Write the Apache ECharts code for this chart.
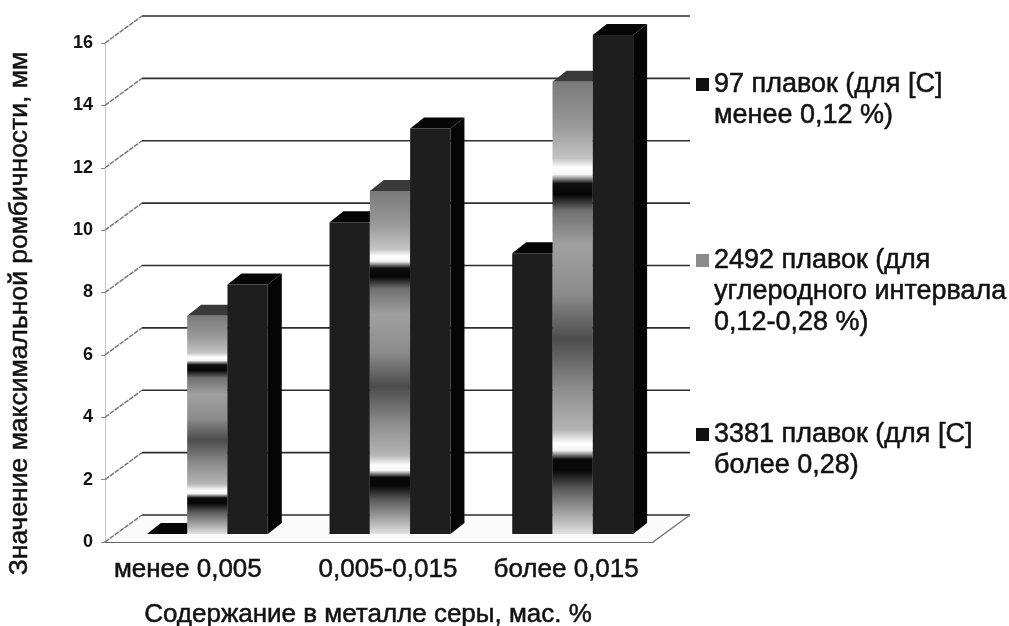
<!DOCTYPE html>
<html>
<head>
<meta charset="utf-8">
<script src="https://cdn.jsdelivr.net/npm/echarts@6/dist/echarts.min.js"></script>
<style>
  html, body { margin: 0; padding: 0; background: #fff; }
  #chart { width: 1009px; height: 626px; }
</style>
</head>
<body>
<div id="chart"></div>
<script>
const categories = ['менее 0,005', '0,005-0,015', 'более 0,015']
const yTicks = [0, 2, 4, 6, 8, 10, 12, 14, 16]
const melts97 = [0, 10, 9]
const melts2492 = [7, 11, 14.5]
const melts3381 = [8, 13, 16]
const seriesNames = [
  '97 плавок (для [С]\nменее 0,12 %)',
  '2492 плавок (для\nуглеродного интервала\n0,12-0,28 %)',
  '3381 плавок (для [С]\nболее 0,28)'
]

const font = '"Liberation Sans", Arial, sans-serif'
const heavy = { fontFamily: font, color: '#111', textBorderColor: '#111', textBorderWidth: 0.5 }
// смещение задней стенки и глубина столбца (косая проекция)
const wallDx = 37, wallDy = -27
const floorDx = 11, floorDy = -8
const barDx = 14, barDy = -11
const barWidth = 40.3

const stripes = new echarts.graphic.LinearGradient(0, 0, 0, 1, [
  { offset: 0, color: '#7a7a7a' },
  { offset: 0.1, color: '#9a9a9a' },
  { offset: 0.17, color: '#c4c4c4' },
  { offset: 0.19, color: '#ffffff' },
  { offset: 0.205, color: '#f4f4f4' },
  { offset: 0.225, color: '#101010' },
  { offset: 0.25, color: '#050505' },
  { offset: 0.285, color: '#707070' },
  { offset: 0.36, color: '#a0a0a0' },
  { offset: 0.47, color: '#8c8c8c' },
  { offset: 0.57, color: '#4c4c4c' },
  { offset: 0.68, color: '#8e8e8e' },
  { offset: 0.77, color: '#b4b4b4' },
  { offset: 0.8, color: '#ffffff' },
  { offset: 0.815, color: '#f4f4f4' },
  { offset: 0.835, color: '#080808' },
  { offset: 0.86, color: '#080808' },
  { offset: 0.9, color: '#5a5a5a' },
  { offset: 0.97, color: '#b8b8b8' },
  { offset: 1, color: '#e2e2e2' }
])

function barSeries(name, values, slot, front, top, side) {
  return {
    type: 'custom',
    name: name,
    itemStyle: { color: front === stripes ? '#8a8a8a' : '#111' },
    data: values.map((v, i) => [i, v]),
    renderItem(params, api) {
      const i = api.value(0)
      const center = api.coord([i, 0])
      const head = api.coord([i, api.value(1)])
      const x0 = center[0] + floorDx + (slot - 1.5) * barWidth
      const x1 = x0 + barWidth
      const y0 = center[1] + floorDy
      const y1 = head[1] + floorDy
      return {
        type: 'group',
        children: [
          { type: 'polygon', shape: { points: [[x1, y0], [x1 + barDx, y0 + barDy], [x1 + barDx, y1 + barDy], [x1, y1]] }, style: { fill: side } },
          { type: 'polygon', shape: { points: [[x0, y1], [x1, y1], [x1 + barDx, y1 + barDy], [x0 + barDx, y1 + barDy]] }, style: { fill: top } },
          { type: 'rect', shape: { x: x0, y: y1, width: barWidth, height: y0 - y1 }, style: { fill: front } }
        ]
      }
    }
  }
}

const wallSeries = {
  type: 'custom',
  silent: true,
  data: yTicks.map(t => [t]),
  renderItem(params, api) {
    const sys = params.coordSys
    const y = api.coord([0, api.value(0)])[1]
    const x0 = sys.x, x1 = sys.x + sys.width
    const children = [
      { type: 'polyline', shape: { points: [[x0, y], [x0 + wallDx, y + wallDy]] }, style: { stroke: '#777', lineWidth: 1.5, lineDash: [5, 1], fill: null } },
      { type: 'line', shape: { x1: x0 + wallDx, y1: y + wallDy, x2: x1 + wallDx, y2: y + wallDy }, style: { stroke: '#2e2e2e', lineWidth: 1.6 } }
    ]
    if (api.value(0) === 0) {
      children.unshift({
        type: 'polygon',
        shape: { points: [[x0, y], [x1, y], [x1 + wallDx, y + wallDy], [x0 + wallDx, y + wallDy]] },
        style: { fill: '#fbfbfb' }
      })
      children.push({ type: 'line', shape: { x1: x1, y1: y, x2: x1 + wallDx, y2: y + wallDy }, style: { stroke: '#777', lineWidth: 1.5 } })
    }
    return { type: 'group', children }
  }
}

// пустые строки сверху держат значок легенды на уровне первой строки текста
function legendAt(name, left, top, lines) {
  return {
    data: [name],
    left, top,
    orient: 'vertical',
    icon: 'rect',
    itemWidth: 13,
    itemHeight: 13,
    selectedMode: false,
    formatter: n => '\n'.repeat(lines - 1) + n,
    textStyle: { ...heavy, fontSize: 27, lineHeight: 31 }
  }
}

const chart = echarts.init(document.getElementById('chart'), null, { renderer: 'canvas' })
chart.setOption({
  animation: false,
  backgroundColor: '#fff',
  grid: { left: 105, top: 43, width: 548, height: 499, outerBoundsMode: 'none' },
  legend: [
    legendAt(seriesNames[0], 691, 33, 2),
    legendAt(seriesNames[1], 691, 178, 3),
    legendAt(seriesNames[2], 691, 383, 2)
  ],
  xAxis: {
    type: 'category',
    data: categories,
    name: 'Содержание в металле серы, мас. %',
    nameLocation: 'middle',
    nameGap: 60,
    nameTextStyle: { ...heavy, fontSize: 26, padding: [0, 22, 0, 0] },
    axisLine: { lineStyle: { color: '#333', width: 1.6 } },
    axisTick: { show: false },
    axisLabel: {
      margin: 15,
      interval: 0,
      hideOverlap: false,
      formatter: (v, i) => `{c${i}|${v}}`,
      rich: {
        c0: { ...heavy, fontSize: 26, padding: [0, 17, 0, 0] },
        c1: { ...heavy, fontSize: 26, padding: [0, 0, 0, 18] },
        c2: { ...heavy, fontSize: 26, padding: [0, 0, 0, 9] }
      }
    }
  },
  yAxis: {
    type: 'value',
    min: 0,
    max: 16,
    interval: 2,
    name: 'Значение максимальной ромбичности, мм',
    nameLocation: 'middle',
    nameGap: 72,
    nameRotate: 90,
    nameTextStyle: { ...heavy, fontSize: 26.5, padding: [0, 42, 0, 0] },
    axisLine: { show: true, lineStyle: { color: '#bbb', type: 'dotted' } },
    axisTick: { show: true, length: 4, lineStyle: { color: '#888' } },
    axisLabel: { margin: 12, fontFamily: font, fontWeight: 'bold', fontSize: 18, color: '#111' },
    splitLine: { show: false }
  },
  series: [
    wallSeries,
    barSeries(seriesNames[0], melts97, 0, '#1e1e1e', '#050505', '#050505'),
    barSeries(seriesNames[1], melts2492, 1, stripes, '#3a3a3a', '#3a3a3a'),
    barSeries(seriesNames[2], melts3381, 2, '#1e1e1e', '#050505', '#050505')
  ]
})
</script>
</body>
</html>
